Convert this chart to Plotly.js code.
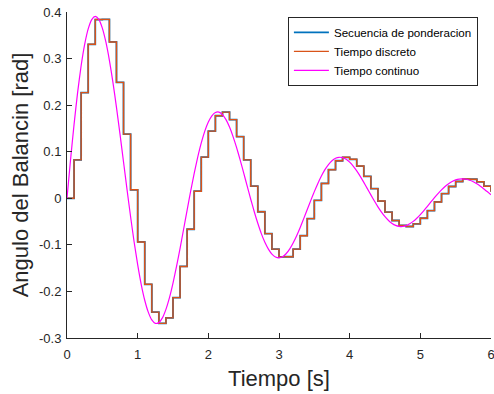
<!DOCTYPE html>
<html>
<head>
<meta charset="utf-8">
<script src="https://cdn.plot.ly/plotly-3.0.1.min.js"></script>
<style>html,body{margin:0;padding:0;background:#fff;}#chart{width:494px;height:394px;}</style>
</head>
<body>
<div id="chart"></div>
<script>
// Sample period 0.1 s for the staircase series, 0.05 s for the continuous curve
const stairStart = 0, stairStep = 0.1;
const contStart = 0, contStep = 0.05;

const seriesNames = ['Secuencia de ponderacion', 'Tiempo discreto', 'Tiempo continuo'];

const secuenciaPonderacion = [
  0, 0.0825, 0.2268, 0.3306, 0.3838, 0.3841, 0.3357, 0.2489, 0.1377, 0.0182,
  -0.0938, -0.1847, -0.2445, -0.2686, -0.2568, -0.2133, -0.1464, -0.0665, 0.0152, 0.0883,
  0.1442, 0.1772, 0.1851, 0.1689, 0.1325, 0.0825, 0.0261, -0.0289, -0.0758, -0.1091,
  -0.1259, -0.1255, -0.1091, -0.0803, -0.0437, -0.0045, 0.0319, 0.0614, 0.0806, 0.0880,
  0.0837, 0.0692, 0.0470, 0.0208, -0.0059, -0.0297, -0.0477, -0.0582, -0.0606, -0.0549,
  -0.0429, -0.0264, -0.0079, 0.0101, 0.0253, 0.0360, 0.0413, 0.0409, 0.0354, 0.0259,
  0.0139
];

const tiempoDiscreto = [
  0, 0.0825, 0.2268, 0.3306, 0.3838, 0.3841, 0.3357, 0.2489, 0.1377, 0.0182,
  -0.0938, -0.1847, -0.2445, -0.2686, -0.2568, -0.2133, -0.1464, -0.0665, 0.0152, 0.0883,
  0.1442, 0.1772, 0.1851, 0.1689, 0.1325, 0.0825, 0.0261, -0.0289, -0.0758, -0.1091,
  -0.1259, -0.1255, -0.1091, -0.0803, -0.0437, -0.0045, 0.0319, 0.0614, 0.0806, 0.0880,
  0.0837, 0.0692, 0.0470, 0.0208, -0.0059, -0.0297, -0.0477, -0.0582, -0.0606, -0.0549,
  -0.0429, -0.0264, -0.0079, 0.0101, 0.0253, 0.0360, 0.0413, 0.0409, 0.0354, 0.0259,
  0.0139
];

const tiempoContinuo = [
  0, 0.0825, 0.1588, 0.2268, 0.2845, 0.3306, 0.3638, 0.3838, 0.3904, 0.3841,
  0.3655, 0.3357, 0.2963, 0.2489, 0.1953, 0.1377, 0.0779, 0.0182, -0.0397, -0.0938,
  -0.1425, -0.1847, -0.2189, -0.2445, -0.2612, -0.2686, -0.2670, -0.2568, -0.2385, -0.2133,
  -0.1821, -0.1464, -0.1074, -0.0665, -0.0252, 0.0152, 0.0535, 0.0883, 0.1188, 0.1442,
  0.1638, 0.1772, 0.1843, 0.1851, 0.1797, 0.1689, 0.1529, 0.1325, 0.1088, 0.0825,
  0.0546, 0.0261, -0.0020, -0.0289, -0.0537, -0.0758, -0.0944, -0.1091, -0.1198, -0.1259,
  -0.1278, -0.1255, -0.1191, -0.1091, -0.0959, -0.0803, -0.0627, -0.0437, -0.0241, -0.0045,
  0.0143, 0.0319, 0.0477, 0.0614, 0.0724, 0.0806, 0.0858, 0.0880, 0.0873, 0.0837,
  0.0775, 0.0692, 0.0588, 0.0470, 0.0342, 0.0208, 0.0073, -0.0059, -0.0184, -0.0297,
  -0.0396, -0.0477, -0.0540, -0.0582, -0.0604, -0.0606, -0.0587, -0.0549, -0.0496, -0.0429,
  -0.0350, -0.0264, -0.0172, -0.0079, 0.0013, 0.0101, 0.0181, 0.0253, 0.0313, 0.0360,
  0.0394, 0.0413, 0.0418, 0.0409, 0.0388, 0.0354, 0.0311, 0.0259, 0.0200, 0.0139,
  0.0074
];

const xTickVals = [0, 1, 2, 3, 4, 5, 6];
const xTickText = ['0', '1', '2', '3', '4', '5', '6'];
const yTickVals = [-0.3, -0.2, -0.1, 0, 0.1, 0.2, 0.3, 0.4];
const yTickText = ['-0.3', '-0.2', '-0.1', '0', '0.1', '0.2', '0.3', '0.4'];

const FONT = '"Liberation Sans", Arial, Helvetica, sans-serif';
const AX = '#262626';

const traces = [
  {
    type: 'scatter', mode: 'lines', name: seriesNames[0],
    x0: stairStart, dx: stairStep, y: secuenciaPonderacion,
    line: {shape: 'hv', color: '#0072BD', width: 1.8}
  },
  {
    type: 'scatter', mode: 'lines', name: seriesNames[1],
    x0: stairStart, dx: stairStep, y: tiempoDiscreto,
    line: {shape: 'hv', color: '#D95319', width: 1.4}
  },
  {
    type: 'scatter', mode: 'lines', name: seriesNames[2],
    x0: contStart, dx: contStep, y: tiempoContinuo,
    line: {shape: 'spline', smoothing: 0.6, color: '#FF00FF', width: 1.2}
  }
];

const layout = {
  width: 494, height: 394,
  margin: {l: 67, r: 3, t: 12, b: 56, pad: 0},
  paper_bgcolor: '#fff', plot_bgcolor: '#fff',
  font: {family: FONT, size: 13, color: AX},
  showlegend: true,
  legend: {
    x: 0.521, y: 0.985, xanchor: 'left', yanchor: 'top',
    bgcolor: '#fff', bordercolor: AX, borderwidth: 1,
    font: {family: FONT, size: 11.6, color: '#000'},
    tracegroupgap: 0, itemwidth: 35
  },
  xaxis: {
    range: [0, 6], tickvals: xTickVals, ticktext: xTickText,
    showgrid: false, zeroline: false,
    showline: true, linecolor: AX, linewidth: 1, mirror: false,
    ticks: 'inside', ticklen: 5, tickcolor: AX, tickwidth: 1,
    ticklabeloverflow: 'allow', ticklabelstandoff: 4,
    tickfont: {family: FONT, size: 13, color: AX},
    title: {text: 'Tiempo [s]', font: {family: FONT, size: 22, color: AX}, standoff: 10}
  },
  yaxis: {
    range: [-0.3, 0.4], tickvals: yTickVals, ticktext: yTickText,
    showgrid: false, zeroline: false,
    showline: true, linecolor: AX, linewidth: 1, mirror: false,
    ticks: 'inside', ticklen: 5, tickcolor: AX, tickwidth: 1,
    ticklabeloverflow: 'allow', ticklabelstandoff: 2,
    tickfont: {family: FONT, size: 13, color: AX},
    title: {text: 'Angulo del Balancin [rad]', font: {family: FONT, size: 22, color: AX}, standoff: 4}
  }
};

Plotly.newPlot('chart', traces, layout, {staticPlot: true, displayModeBar: false});
</script>
</body>
</html>
